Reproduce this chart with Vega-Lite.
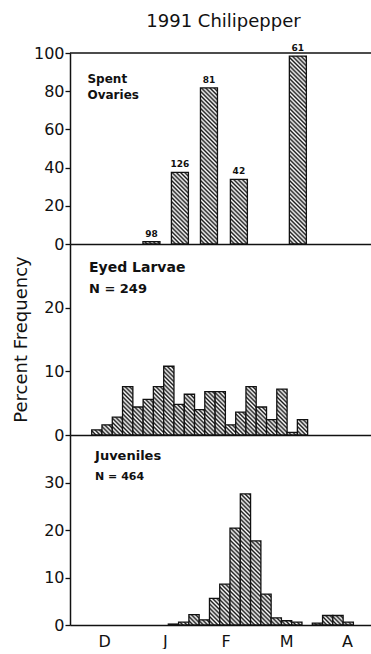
{
  "$schema": "https://vega.github.io/schema/vega-lite/v6.json",
  "background": "white",
  "padding": {"left": 11, "top": 13, "right": 0, "bottom": 0},
  "spacing": 0,
  "bounds": "flush",
  "params": [
    {
      "name": "hatch",
      "value": [
        {"offset": 0, "color": "#1a1a1a"}, {"offset": 0.01, "color": "#ffffff"}, {"offset": 0.02, "color": "#1a1a1a"}, {"offset": 0.03, "color": "#ffffff"},
        {"offset": 0.04, "color": "#1a1a1a"}, {"offset": 0.05, "color": "#ffffff"}, {"offset": 0.06, "color": "#1a1a1a"}, {"offset": 0.07, "color": "#ffffff"},
        {"offset": 0.08, "color": "#1a1a1a"}, {"offset": 0.09, "color": "#ffffff"}, {"offset": 0.10, "color": "#1a1a1a"}, {"offset": 0.11, "color": "#ffffff"},
        {"offset": 0.12, "color": "#1a1a1a"}, {"offset": 0.13, "color": "#ffffff"}, {"offset": 0.14, "color": "#1a1a1a"}, {"offset": 0.15, "color": "#ffffff"},
        {"offset": 0.16, "color": "#1a1a1a"}, {"offset": 0.17, "color": "#ffffff"}, {"offset": 0.18, "color": "#1a1a1a"}, {"offset": 0.19, "color": "#ffffff"},
        {"offset": 0.20, "color": "#1a1a1a"}, {"offset": 0.21, "color": "#ffffff"}, {"offset": 0.22, "color": "#1a1a1a"}, {"offset": 0.23, "color": "#ffffff"},
        {"offset": 0.24, "color": "#1a1a1a"}, {"offset": 0.25, "color": "#ffffff"}, {"offset": 0.26, "color": "#1a1a1a"}, {"offset": 0.27, "color": "#ffffff"},
        {"offset": 0.28, "color": "#1a1a1a"}, {"offset": 0.29, "color": "#ffffff"}, {"offset": 0.30, "color": "#1a1a1a"}, {"offset": 0.31, "color": "#ffffff"},
        {"offset": 0.32, "color": "#1a1a1a"}, {"offset": 0.33, "color": "#ffffff"}, {"offset": 0.34, "color": "#1a1a1a"}, {"offset": 0.35, "color": "#ffffff"},
        {"offset": 0.36, "color": "#1a1a1a"}, {"offset": 0.37, "color": "#ffffff"}, {"offset": 0.38, "color": "#1a1a1a"}, {"offset": 0.39, "color": "#ffffff"},
        {"offset": 0.40, "color": "#1a1a1a"}, {"offset": 0.41, "color": "#ffffff"}, {"offset": 0.42, "color": "#1a1a1a"}, {"offset": 0.43, "color": "#ffffff"},
        {"offset": 0.44, "color": "#1a1a1a"}, {"offset": 0.45, "color": "#ffffff"}, {"offset": 0.46, "color": "#1a1a1a"}, {"offset": 0.47, "color": "#ffffff"},
        {"offset": 0.48, "color": "#1a1a1a"}, {"offset": 0.49, "color": "#ffffff"}, {"offset": 0.50, "color": "#1a1a1a"}, {"offset": 0.51, "color": "#ffffff"},
        {"offset": 0.52, "color": "#1a1a1a"}, {"offset": 0.53, "color": "#ffffff"}, {"offset": 0.54, "color": "#1a1a1a"}, {"offset": 0.55, "color": "#ffffff"},
        {"offset": 0.56, "color": "#1a1a1a"}, {"offset": 0.57, "color": "#ffffff"}, {"offset": 0.58, "color": "#1a1a1a"}, {"offset": 0.59, "color": "#ffffff"},
        {"offset": 0.60, "color": "#1a1a1a"}, {"offset": 0.61, "color": "#ffffff"}, {"offset": 0.62, "color": "#1a1a1a"}, {"offset": 0.63, "color": "#ffffff"},
        {"offset": 0.64, "color": "#1a1a1a"}, {"offset": 0.65, "color": "#ffffff"}, {"offset": 0.66, "color": "#1a1a1a"}, {"offset": 0.67, "color": "#ffffff"},
        {"offset": 0.68, "color": "#1a1a1a"}, {"offset": 0.69, "color": "#ffffff"}, {"offset": 0.70, "color": "#1a1a1a"}, {"offset": 0.71, "color": "#ffffff"},
        {"offset": 0.72, "color": "#1a1a1a"}, {"offset": 0.73, "color": "#ffffff"}, {"offset": 0.74, "color": "#1a1a1a"}, {"offset": 0.75, "color": "#ffffff"},
        {"offset": 0.76, "color": "#1a1a1a"}, {"offset": 0.77, "color": "#ffffff"}, {"offset": 0.78, "color": "#1a1a1a"}, {"offset": 0.79, "color": "#ffffff"},
        {"offset": 0.80, "color": "#1a1a1a"}, {"offset": 0.81, "color": "#ffffff"}, {"offset": 0.82, "color": "#1a1a1a"}, {"offset": 0.83, "color": "#ffffff"},
        {"offset": 0.84, "color": "#1a1a1a"}, {"offset": 0.85, "color": "#ffffff"}, {"offset": 0.86, "color": "#1a1a1a"}, {"offset": 0.87, "color": "#ffffff"},
        {"offset": 0.88, "color": "#1a1a1a"}, {"offset": 0.89, "color": "#ffffff"}, {"offset": 0.90, "color": "#1a1a1a"}, {"offset": 0.91, "color": "#ffffff"},
        {"offset": 0.92, "color": "#1a1a1a"}, {"offset": 0.93, "color": "#ffffff"}, {"offset": 0.94, "color": "#1a1a1a"}, {"offset": 0.95, "color": "#ffffff"},
        {"offset": 0.96, "color": "#1a1a1a"}, {"offset": 0.97, "color": "#ffffff"}, {"offset": 0.98, "color": "#1a1a1a"}, {"offset": 0.99, "color": "#ffffff"},
        {"offset": 1, "color": "#1a1a1a"}
      ]
    }
  ],
  "config": {
    "view": {"stroke": null},
    "font": "DejaVu Sans",
    "axis": {
      "grid": false,
      "domainColor": "#111111",
      "domainWidth": 1.5,
      "tickColor": "#111111",
      "tickWidth": 1.3,
      "labelColor": "#111111",
      "labelFont": "DejaVu Sans",
      "labelFontSize": 16,
      "labelOverlap": false,
      "labelBound": false,
      "titleColor": "#111111",
      "titleFont": "DejaVu Sans",
      "titleFontWeight": "normal"
    },
    "text": {"font": "DejaVu Sans", "color": "#111111"}
  },
  "vconcat": [
    {
      "width": 301,
      "height": 191,
      "title": {
        "text": "1991 Chilipepper",
        "frame": "group",
        "anchor": "middle",
        "baseline": "alphabetic",
        "offset": -1,
        "dx": 3,
        "font": "DejaVu Sans",
        "fontSize": 18,
        "fontWeight": "normal",
        "color": "#111111"
      },
      "layer": [
        {
          "data": {
            "values": [
              {"mid": 1.24, "pct": 1.2, "n": 98},
              {"mid": 1.725, "pct": 37.5, "n": 126},
              {"mid": 2.22, "pct": 81.7, "n": 81},
              {"mid": 2.73, "pct": 33.8, "n": 42},
              {"mid": 3.735, "pct": 98.4, "n": 61}
            ]
          },
          "encoding": {
            "x": {
              "field": "mid",
              "type": "quantitative",
              "scale": {"domain": [-0.0626, 4.896], "nice": false, "zero": false},
              "axis": {"labels": false, "ticks": false, "title": null}
            },
            "y": {
              "field": "pct",
              "type": "quantitative",
              "scale": {"domain": [0, 100], "nice": false},
              "axis": {
                "title": null,
                "values": [0, 20, 40, 60, 80, 100],
                "tickSize": 5,
                "labelPadding": 1,
                "labelOverlap": false
              }
            }
          },
          "layer": [
            {
              "mark": {
                "type": "bar",
                "size": 17,
                "stroke": "#111111",
                "strokeWidth": 1.3,
                "fill": {"expr": "{gradient: 'linear', x1: 0, y1: 1, x2: 212.13*17/(289 + pow(datum.pct*1.91, 2)), y2: 1 - 212.13*datum.pct*1.91/(289 + pow(datum.pct*1.91, 2)), stops: hatch}"}
              }
            },
            {
              "mark": {"type": "text", "baseline": "bottom", "dy": -3, "fontSize": 9, "fontWeight": "bold"},
              "encoding": {"text": {"field": "n"}}
            }
          ]
        },
        {
          "data": {"values": [{}]},
          "mark": {"type": "rule", "color": "#111111", "strokeWidth": 1.5},
          "encoding": {
            "y": {
              "datum": 100,
              "type": "quantitative",
              "axis": {"title": null, "values": [0, 20, 40, 60, 80, 100], "tickSize": 5, "labelPadding": 1, "labelOverlap": false}
            }
          }
        },
        {
          "data": {"values": [{"label": "Spent\nOvaries"}]},
          "mark": {"type": "text", "align": "left", "baseline": "middle", "lineBreak": "\n", "lineHeight": 16.3, "fontSize": 12, "fontWeight": "bold"},
          "encoding": {
            "x": {"datum": 0.15, "type": "quantitative", "axis": {"labels": false, "ticks": false, "title": null}},
            "y": {
              "datum": 86.4,
              "type": "quantitative",
              "axis": {"title": null, "values": [0, 20, 40, 60, 80, 100], "tickSize": 5, "labelPadding": 1, "labelOverlap": false}
            },
            "text": {"field": "label"}
          }
        }
      ]
    },
    {
      "width": 301,
      "height": 191,
      "layer": [
        {
          "data": {
            "values": [
              {"start": 0.295, "end": 0.464, "pct": 0.8},
              {"start": 0.464, "end": 0.634, "pct": 1.6},
              {"start": 0.634, "end": 0.803, "pct": 2.8},
              {"start": 0.803, "end": 0.973, "pct": 7.6},
              {"start": 0.973, "end": 1.142, "pct": 4.4},
              {"start": 1.142, "end": 1.311, "pct": 5.6},
              {"start": 1.311, "end": 1.481, "pct": 7.6},
              {"start": 1.481, "end": 1.650, "pct": 10.8},
              {"start": 1.650, "end": 1.820, "pct": 4.8},
              {"start": 1.820, "end": 1.989, "pct": 6.4},
              {"start": 1.989, "end": 2.158, "pct": 4.0},
              {"start": 2.158, "end": 2.328, "pct": 6.8},
              {"start": 2.328, "end": 2.497, "pct": 6.8},
              {"start": 2.497, "end": 2.667, "pct": 1.6},
              {"start": 2.667, "end": 2.836, "pct": 3.6},
              {"start": 2.836, "end": 3.005, "pct": 7.6},
              {"start": 3.005, "end": 3.175, "pct": 4.4},
              {"start": 3.175, "end": 3.344, "pct": 2.4},
              {"start": 3.344, "end": 3.514, "pct": 7.2},
              {"start": 3.514, "end": 3.683, "pct": 0.4},
              {"start": 3.683, "end": 3.852, "pct": 2.4}
            ]
          },
          "mark": {
            "type": "bar",
            "stroke": "#111111",
            "strokeWidth": 1.3,
            "fill": {"expr": "{gradient: 'linear', x1: 0, y1: 1, x2: 212.13*10.28/(105.68 + pow(datum.pct*6.367, 2)), y2: 1 - 212.13*datum.pct*6.367/(105.68 + pow(datum.pct*6.367, 2)), stops: hatch}"}
          },
          "encoding": {
            "x": {
              "field": "start",
              "type": "quantitative",
              "scale": {"domain": [-0.0626, 4.896], "nice": false, "zero": false},
              "axis": {"labels": false, "ticks": false, "title": null}
            },
            "x2": {"field": "end"},
            "y": {
              "field": "pct",
              "type": "quantitative",
              "scale": {"domain": [0, 30], "nice": false},
              "axis": {
                "title": "Percent Frequency",
                "titleFontSize": 18,
                "titleX": -44,
                "titleY": 95,
                "titleBaseline": "alphabetic",
                "values": [0, 2.5, 5, 7.5, 10, 12.5, 15, 17.5, 20, 22.5, 25, 27.5],
                "labelExpr": "datum.value % 10 === 0 ? datum.label : ''",
                "tickSize": {"condition": {"test": "datum.value % 10 === 0", "value": 5}, "value": 2},
                "labelPadding": 1
              }
            },
            "y2": {"datum": 0}
          }
        },
        {
          "data": {"values": [{"label": "Eyed Larvae"}]},
          "mark": {"type": "text", "align": "left", "baseline": "middle", "fontSize": 14, "fontWeight": "bold"},
          "encoding": {
            "x": {"datum": 0.25, "type": "quantitative"},
            "y": {"datum": 26.3, "type": "quantitative"},
            "text": {"field": "label"}
          }
        },
        {
          "data": {"values": [{"label": "N = 249"}]},
          "mark": {"type": "text", "align": "left", "baseline": "middle", "fontSize": 13, "fontWeight": "bold"},
          "encoding": {
            "x": {"datum": 0.25, "type": "quantitative"},
            "y": {"datum": 22.9, "type": "quantitative"},
            "text": {"field": "label"}
          }
        }
      ]
    },
    {
      "width": 301,
      "height": 190,
      "layer": [
        {
          "data": {
            "values": [
              {"start": 1.557, "end": 1.726, "pct": 0.2},
              {"start": 1.726, "end": 1.896, "pct": 0.6},
              {"start": 1.896, "end": 2.065, "pct": 2.2},
              {"start": 2.065, "end": 2.235, "pct": 1.1},
              {"start": 2.235, "end": 2.404, "pct": 5.6},
              {"start": 2.404, "end": 2.573, "pct": 8.6},
              {"start": 2.573, "end": 2.743, "pct": 20.4},
              {"start": 2.743, "end": 2.912, "pct": 27.6},
              {"start": 2.912, "end": 3.082, "pct": 17.7},
              {"start": 3.082, "end": 3.251, "pct": 6.5},
              {"start": 3.251, "end": 3.420, "pct": 1.5},
              {"start": 3.420, "end": 3.590, "pct": 0.9},
              {"start": 3.590, "end": 3.759, "pct": 0.6},
              {"start": 3.929, "end": 4.098, "pct": 0.4},
              {"start": 4.098, "end": 4.267, "pct": 2.0},
              {"start": 4.267, "end": 4.437, "pct": 2.0},
              {"start": 4.437, "end": 4.606, "pct": 0.6}
            ]
          },
          "mark": {
            "type": "bar",
            "stroke": "#111111",
            "strokeWidth": 1.3,
            "fill": {"expr": "{gradient: 'linear', x1: 0, y1: 1, x2: 212.13*10.28/(105.68 + pow(datum.pct*4.75, 2)), y2: 1 - 212.13*datum.pct*4.75/(105.68 + pow(datum.pct*4.75, 2)), stops: hatch}"}
          },
          "encoding": {
            "x": {
              "field": "start",
              "type": "quantitative",
              "scale": {"domain": [-0.0626, 4.896], "nice": false, "zero": false},
              "axis": {
                "title": null,
                "values": [0.5, 1, 1.5, 2, 2.5, 3, 3.5, 4, 4.5],
                "labelExpr": "datum.value % 1 === 0.5 ? ['D', 'J', 'F', 'M', 'A'][floor(datum.value)] : ''",
                "tickSize": 4,
                "tickOpacity": {"condition": {"test": "datum.value % 1 === 0", "value": 1}, "value": 0},
                "labelPadding": 4,
                "labelFontSize": 16,
                "labelFlush": false
              }
            },
            "x2": {"field": "end"},
            "y": {
              "field": "pct",
              "type": "quantitative",
              "scale": {"domain": [0, 40], "nice": false},
              "axis": {
                "title": null,
                "values": [0, 2.5, 5, 7.5, 10, 12.5, 15, 17.5, 20, 22.5, 25, 27.5, 30, 32.5, 35, 37.5],
                "labelExpr": "datum.value % 10 === 0 ? datum.label : ''",
                "tickSize": {"condition": {"test": "datum.value % 10 === 0", "value": 5}, "value": 2},
                "labelPadding": 1
              }
            },
            "y2": {"datum": 0}
          }
        },
        {
          "data": {"values": [{"label": "Juveniles"}]},
          "mark": {"type": "text", "align": "left", "baseline": "middle", "fontSize": 13, "fontWeight": "bold"},
          "encoding": {
            "x": {"datum": 0.35, "type": "quantitative"},
            "y": {"datum": 35.5, "type": "quantitative"},
            "text": {"field": "label"}
          }
        },
        {
          "data": {"values": [{"label": "N = 464"}]},
          "mark": {"type": "text", "align": "left", "baseline": "middle", "fontSize": 11, "fontWeight": "bold"},
          "encoding": {
            "x": {"datum": 0.35, "type": "quantitative"},
            "y": {"datum": 31.2, "type": "quantitative"},
            "text": {"field": "label"}
          }
        }
      ]
    }
  ]
}
